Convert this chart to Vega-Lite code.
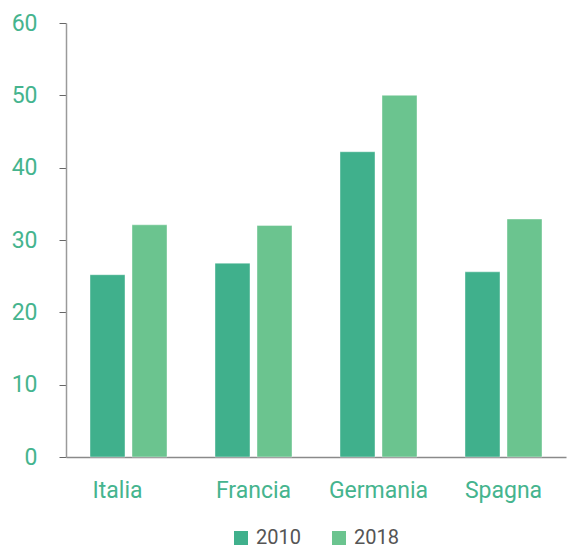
{
  "$schema": "https://vega.github.io/schema/vega-lite/v6.json",
  "width": 500,
  "height": 434,
  "autosize": "none",
  "padding": {"left": 66, "top": 23, "right": 4, "bottom": 91},
  "background": "white",
  "config": {
    "view": {"stroke": null},
    "font": "Roboto"
  },
  "data": {
    "values": [
      {"paese": "Italia", "anno": "2010", "valore": 25.2},
      {"paese": "Italia", "anno": "2018", "valore": 32.1},
      {"paese": "Francia", "anno": "2010", "valore": 26.8},
      {"paese": "Francia", "anno": "2018", "valore": 32.0},
      {"paese": "Germania", "anno": "2010", "valore": 42.2},
      {"paese": "Germania", "anno": "2018", "valore": 50.0},
      {"paese": "Spagna", "anno": "2010", "valore": 25.6},
      {"paese": "Spagna", "anno": "2018", "valore": 32.9}
    ]
  },
  "mark": {"type": "bar", "stroke": "#ffffff", "strokeOpacity": 0.4, "strokeWidth": 1},
  "encoding": {
    "x": {
      "field": "paese",
      "type": "nominal",
      "sort": ["Italia", "Francia", "Germania", "Spagna"],
      "scale": {"paddingInner": 0.384, "paddingOuter": 0.192},
      "axis": {
        "title": null,
        "labelAngle": 0,
        "labelFontSize": 23,
        "labelColor": "#45b48e",
        "labelPadding": 22,
        "labelOffset": {"condition": {"test": "datum.value === 'Italia'", "value": -11}, "value": 0},
        "ticks": false,
        "domainColor": "#8a8a8a",
        "domainWidth": 1.5,
        "grid": false
      }
    },
    "xOffset": {
      "field": "anno",
      "type": "nominal",
      "scale": {"paddingInner": 0.167, "paddingOuter": 0}
    },
    "y": {
      "field": "valore",
      "type": "quantitative",
      "scale": {"domain": [0, 60]},
      "axis": {
        "title": null,
        "values": [0, 10, 20, 30, 40, 50, 60],
        "grid": false,
        "labelFontSize": 23,
        "labelColor": "#45b48e",
        "labelPadding": 22,
        "tickSize": 7,
        "tickColor": "#666666",
        "domainColor": "#9a9a9a",
        "domainWidth": 1.5
      }
    },
    "color": {
      "field": "anno",
      "type": "nominal",
      "scale": {"domain": ["2010", "2018"], "range": ["#40b08c", "#6bc48f"]},
      "legend": {
        "title": null,
        "orient": "none",
        "legendX": 165,
        "legendY": 505,
        "direction": "horizontal",
        "symbolType": "square",
        "symbolSize": 196,
        "symbolStrokeWidth": 0,
        "labelFontSize": 20,
        "labelColor": "#555555",
        "columnPadding": 28,
        "labelOffset": 5
      }
    }
  }
}
